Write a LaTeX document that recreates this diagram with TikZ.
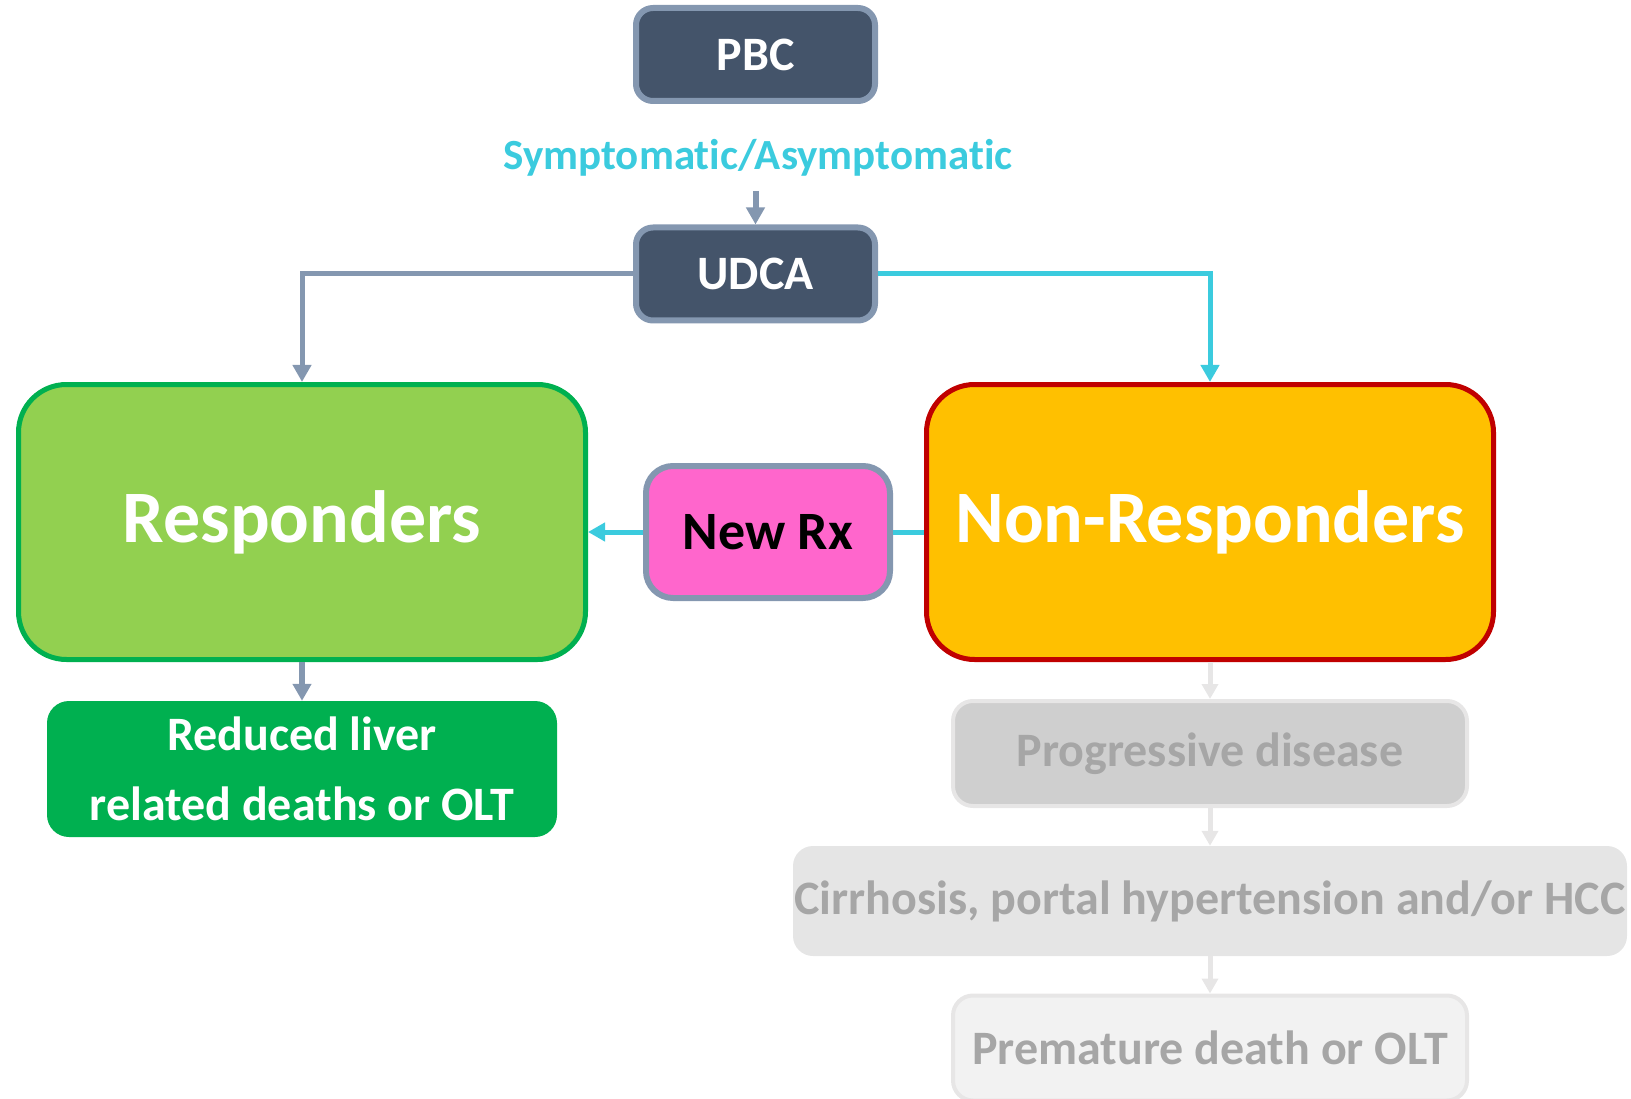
\documentclass[tikz,border=0pt]{standalone}
\usepackage{fontspec}
\setmainfont{Carlito}[Ligatures=NoCommon]
\usetikzlibrary{arrows.meta}

\definecolor{slate}{HTML}{44546A}
\definecolor{slateline}{HTML}{8497B0}
\definecolor{aqua}{HTML}{3BCBDE}
\definecolor{leaf}{HTML}{92D050}
\definecolor{grass}{HTML}{00B050}
\definecolor{amber}{HTML}{FFC000}
\definecolor{crimson}{HTML}{C00000}
\definecolor{rxpink}{HTML}{FF66CC}
\definecolor{fadetext}{HTML}{A6A6A6}
\definecolor{fadeline}{HTML}{E7E6E6}

\tikzset{
	darkbox/.style={draw=slateline, fill=slate, line width=6pt, rounded corners=17pt, text=white,
		minimum width=239pt, minimum height=93pt, font=\fontsize{48}{48}\selectfont\bfseries},
	bigbox/.style={line width=5pt, rounded corners=48pt, text=white, minimum width=567pt,
		minimum height=275pt, font=\fontsize{74}{74}\selectfont\bfseries},
	fadebox/.style={text=fadetext, rounded corners=20pt, inner xsep=0pt, minimum height=105pt,
		font=\fontsize{48}{48}\selectfont\bfseries},
	slatearrow/.style={draw=slateline, line width=6pt, -{Triangle[width=18pt,length=17pt]}},
	aqualine/.style={draw=aqua, line width=5pt},
	aquaarrow/.style={aqualine, -{Triangle[width=18pt,length=17pt]}},
	fadearrow/.style={draw=fadeline, line width=5pt, -{Triangle[width=16pt,length=15pt]}}
}

\begin{document}
\begin{tikzpicture}[x=1pt,y=-1pt]
		\useasboundingbox (0,0) rectangle (1631,1099);
		
		%top of the chart
		\node[darkbox] (pbc) at (755.5,54.5) {PBC};
		\node[text=aqua, inner sep=0pt, anchor=base, font=\fontsize{43}{43}\selectfont\bfseries] (sympt) at (758,170) {Symptomatic/Asymptomatic};
		\node[darkbox] (udca) at (755.5,274) {UDCA};
		
		%response groups
		\node[bigbox, draw=grass, fill=leaf] (resp) at (302,522) {Responders};
		\node[bigbox, draw=crimson, fill=amber] (nonresp) at (1210,522) {Non-Responders};
		\node[draw=slateline, fill=rxpink, line width=6pt, rounded corners=27pt, minimum width=244pt,
			minimum height=132pt, font=\fontsize{54}{54}\selectfont\bfseries] (newrx) at (768,532) {New Rx};
		
		%outcomes
		\node[fill=grass, rounded corners=22pt, text=white, align=center, minimum width=510pt,
			minimum height=136pt, font=\fontsize{48}{70}\selectfont\bfseries] (reduced) at (302,769) {Reduced liver\\related deaths or OLT};
		\node[fadebox, draw=fadeline, line width=4pt, fill=black!19, minimum width=514pt] (progr) at (1210,753.5) {Progressive disease};
		\node[fadebox, fill=black!10, minimum width=834pt, minimum height=110pt] (cirrh) at (1210,901) {Cirrhosis, portal hypertension and/or HCC};
		\node[fadebox, draw=fadeline, line width=4pt, fill=black!5, minimum width=514pt] (premat) at (1210,1048) {Premature death or OLT};
		
		%arrows
		\draw[slatearrow, shorten <=14pt] (udca.north |- sympt.south) -- (udca.north);
		\draw[slatearrow, line width=5pt] (udca.west) -| (resp.north);
		\draw[aquaarrow] (udca.east) -| (nonresp.north);
		\draw[aqualine] (nonresp.west |- newrx.east) -- (newrx.east);
		\draw[aquaarrow] (newrx.west) -- (resp.east |- newrx.west);
		\draw[slatearrow] (resp.south) -- (reduced.north);
		\draw[fadearrow] (nonresp.south) -- (progr.north);
		\draw[fadearrow] (progr.south) -- (cirrh.north);
		\draw[fadearrow] (cirrh.south) -- (premat.north);
		
		\end{tikzpicture}
\end{document}
